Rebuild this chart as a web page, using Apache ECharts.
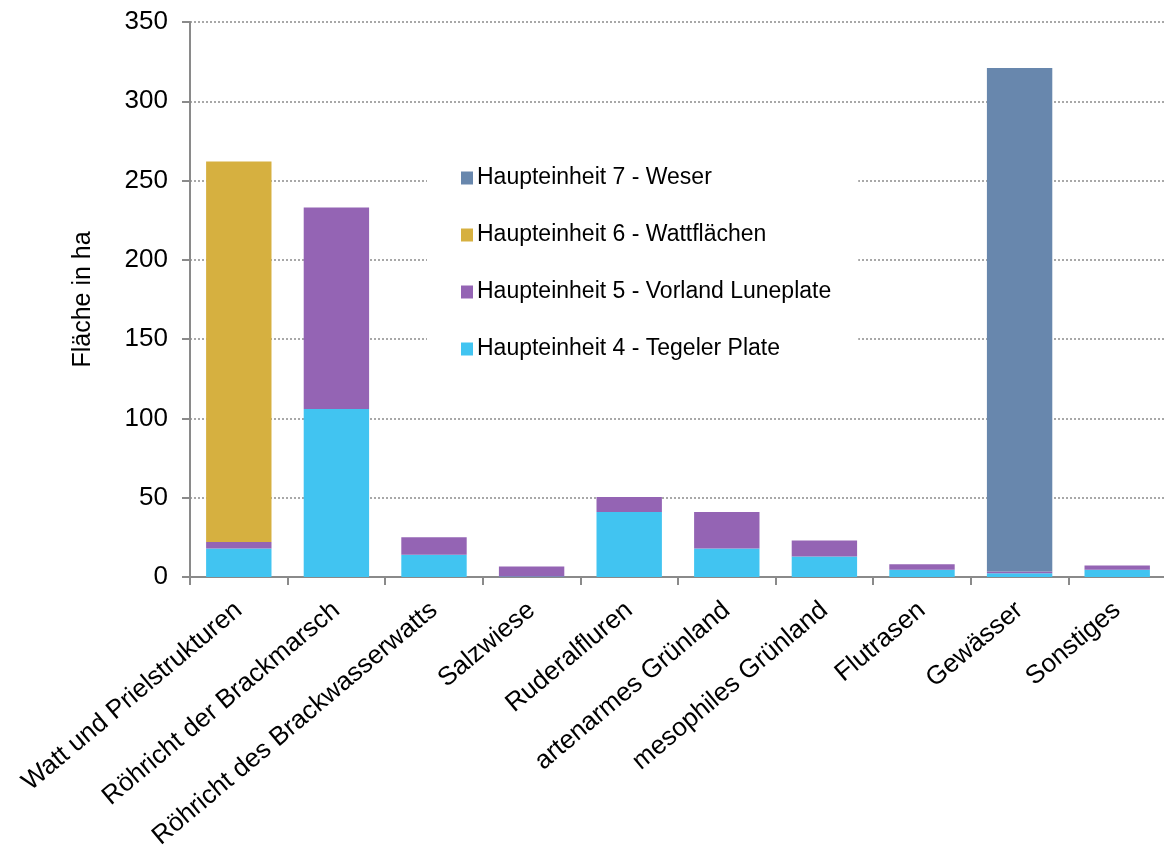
<!DOCTYPE html>
<html>
<head>
<meta charset="utf-8">
<script src="https://cdn.jsdelivr.net/npm/echarts@6/dist/echarts.min.js"></script>
<style>
  html, body { margin: 0; padding: 0; background: #fff; }
  #chart { width: 1164px; height: 849px; }
</style>
</head>
<body>
<div id="chart"></div>
<script>
// Biotope types (categories on the x axis)
const categories = [
  'Watt und Prielstrukturen',
  'Röhricht der Brackmarsch',
  'Röhricht des Brackwasserwatts',
  'Salzwiese',
  'Ruderalfluren',
  'artenarmes Grünland',
  'mesophiles Grünland',
  'Flutrasen',
  'Gewässer',
  'Sonstiges'
];

// Area in ha per main unit (stacked from bottom to top: 4, 5, 6, 7)
const he4Tegeler = [18, 106, 14, 0.3, 41, 18, 13, 4.6, 2.3, 4.6];
const he5Luneplate = [4, 127, 11, 6.4, 9.4, 23, 10, 3.4, 1.1, 2.6];
const he6Watt = [240, 0, 0, 0, 0, 0, 0, 0, 0, 0];
const he7Weser = [0, 0, 0, 0, 0, 0, 0, 0, 317.6, 0];

const seriesNames = [
  'Haupteinheit 4 - Tegeler Plate',
  'Haupteinheit 5 - Vorland Luneplate',
  'Haupteinheit 6 - Wattflächen',
  'Haupteinheit 7 - Weser'
];
const yTicks = { min: 0, max: 350, interval: 50 };
const yAxisTitle = 'Fläche in ha';

const colors = ['#41C4F1', '#9464B4', '#D6B040', '#6887AD'];
const seriesData = [he4Tegeler, he5Luneplate, he6Watt, he7Weser];
const font = '"Liberation Sans", Arial, sans-serif';

const chart = echarts.init(document.getElementById('chart'), null, { renderer: 'canvas' });

chart.setOption({
  animation: false,
  backgroundColor: '#ffffff',
  textStyle: { fontFamily: font },
  grid: { left: 190, top: 22, width: 976, height: 555, containLabel: false, outerBoundsMode: 'none' },
  legend: {
    orient: 'vertical',
    left: 427,
    top: 143,
    backgroundColor: '#ffffff',
    padding: [22, 27, 30, 34],
    itemWidth: 12,
    itemHeight: 13,
    itemGap: 31,
    icon: 'rect',
    data: seriesNames.slice().reverse(),
    textStyle: { fontFamily: font, fontSize: 23, color: '#000', lineHeight: 26, padding: [0, 0, 0, -1] }
  },
  xAxis: {
    type: 'category',
    data: categories,
    axisLine: { lineStyle: { color: '#8a8a8a', width: 2 } },
    axisTick: { show: true, alignWithLabel: false, length: 8, lineStyle: { color: '#8a8a8a', width: 2 } },
    axisLabel: {
      interval: 0,
      rotate: 40,
      margin: 30,
      color: '#000',
      fontFamily: font,
      fontSize: 26
    }
  },
  yAxis: {
    type: 'value',
    min: yTicks.min,
    max: yTicks.max,
    interval: yTicks.interval,
    name: yAxisTitle,
    nameLocation: 'middle',
    nameGap: 94,
    nameRotate: 90,
    nameTextStyle: { fontFamily: font, fontSize: 25, color: '#000' },
    axisLine: { show: true, lineStyle: { color: '#8a8a8a', width: 2 } },
    axisTick: { show: true, length: 8, lineStyle: { color: '#8a8a8a', width: 2 } },
    axisLabel: { margin: 22, color: '#000', fontFamily: font, fontSize: 26 },
    splitLine: { show: true, lineStyle: { color: '#8c8c8c', width: 1.5, type: [2, 2] } }
  },
  series: seriesNames.map((name, i) => ({
    name: name,
    type: 'bar',
    stack: 'area',
    barCategoryGap: '33%',
    itemStyle: { color: colors[i] },
    data: seriesData[i]
  }))
});
</script>
</body>
</html>
